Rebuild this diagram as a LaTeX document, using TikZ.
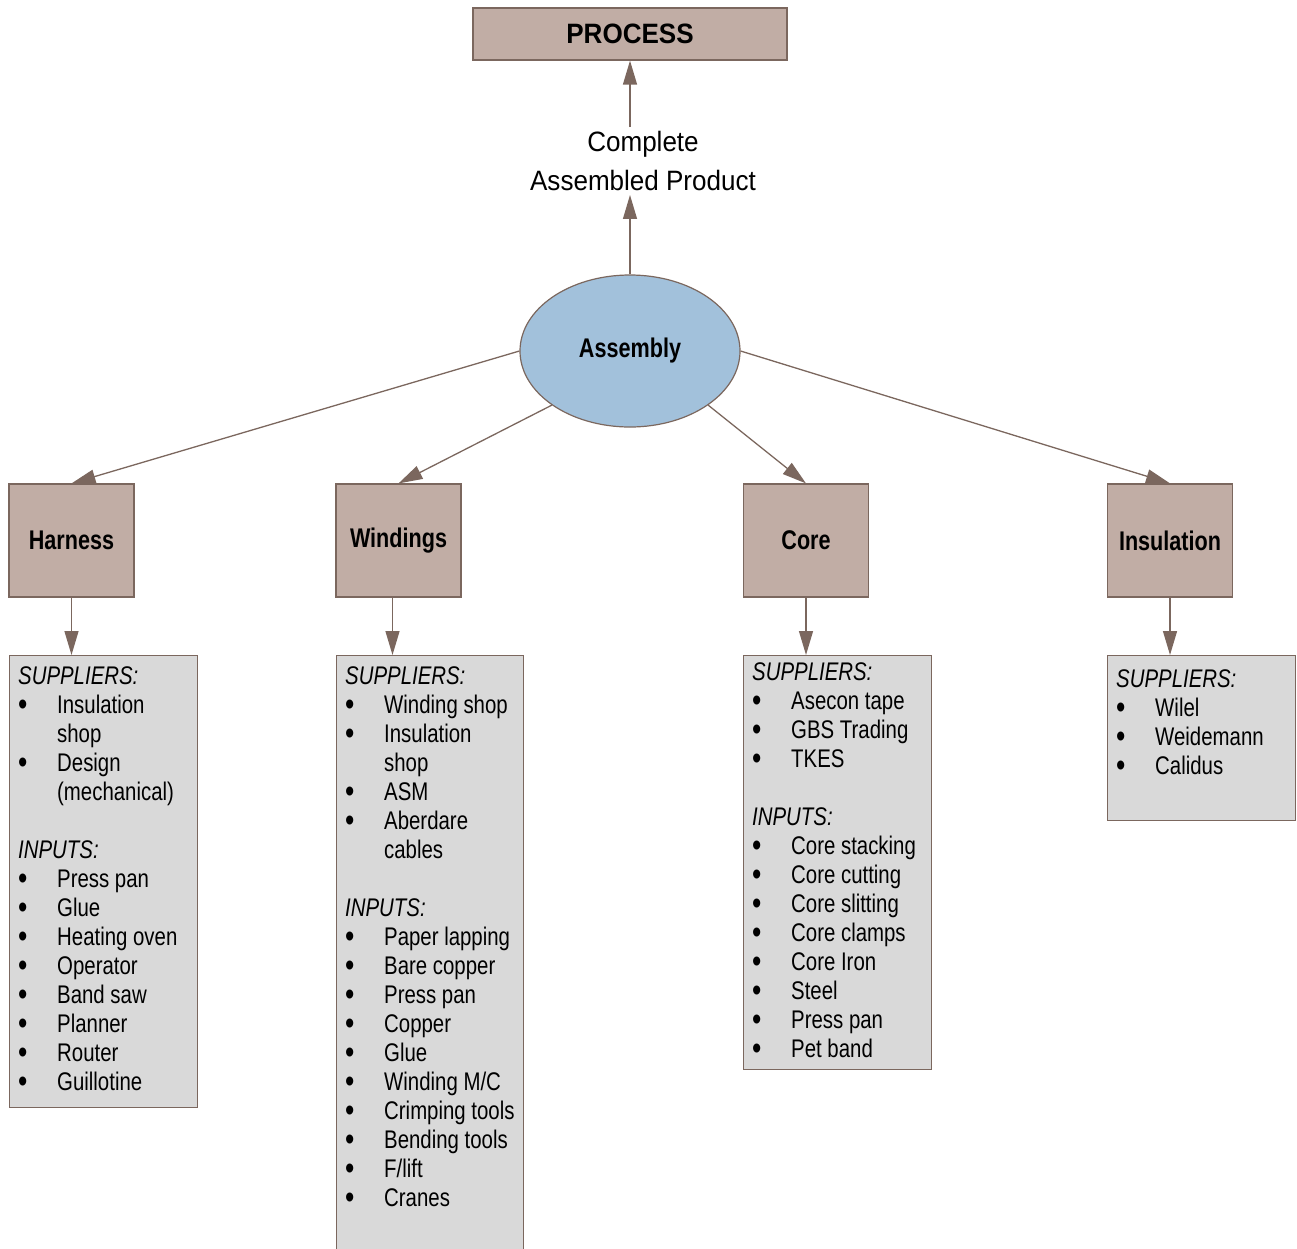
\documentclass[tikz,border=0pt]{standalone}
\usepackage{fontspec}
\setmainfont{Liberation Sans}[FakeStretch=0.8]
\newfontfamily\widefont{Liberation Sans}[FakeStretch=0.93]
\usetikzlibrary{shapes.geometric,arrows.meta}

\definecolor{boxfill}{HTML}{C1ADA5}
\definecolor{boxline}{HTML}{7B675E}
\definecolor{ellfill}{HTML}{A2C1DB}
\definecolor{listfill}{HTML}{D9D9D9}

\newcommand{\itm}[1]{\makebox[39pt][l]{\raisebox{-2pt}{\scalebox{1.3}{\textbullet}}}#1}
\newcommand{\cont}[1]{\hspace*{39pt}#1}

\tikzset{
  part/.style={draw=boxline, fill=boxfill, line width=1.2pt, minimum width=125pt,
    minimum height=113pt, inner sep=0pt, font=\fontsize{27}{30}\selectfont\bfseries},
  listbox/.style={draw=boxline, fill=listfill, line width=1.2pt, anchor=north west,
    inner sep=0pt, minimum width=188pt},
  listtext/.style={anchor=north west, inner sep=0pt, align=left,
    font=\fontsize{25.5}{29}\selectfont},
  arr/.style={draw=boxline, line width=1.3pt, -{Triangle[length=24pt,width=14pt]}}
}

\begin{document}
\begin{tikzpicture}[x=1pt,y=-1pt]
\useasboundingbox (0,0) rectangle (1297,1248);

% top of the chart
\node[draw=boxline, fill=boxfill, line width=1.2pt, minimum width=314pt, minimum height=52pt,
  font=\widefont\fontsize{28}{30}\selectfont\bfseries] (proc) at (630,34) {PROCESS};
\node[align=center, inner sep=4pt, font=\widefont\fontsize{28}{39}\selectfont] (prod) at (643,161)
  {Complete\\Assembled Product};
\node[ellipse, draw=boxline, fill=ellfill, line width=1.2pt, minimum width=220pt, minimum height=152pt,
  font=\fontsize{27}{30}\selectfont\bfseries] (asm) at (630,351) {Assembly};

\draw[arr] (asm.north) -- (asm.north |- prod.south);
\draw[arr] (asm.north |- prod.north) -- (asm.north |- proc.south);

% the four parts
\node[part] (harness) at (71.5,540.5) {Harness};
\node[part] (windings) at (398.5,540.5) {Windings};
\node[part] (core) at (806,540.5) {Core};
\node[part] (insul) at (1170,540.5) {Insulation};

\draw[arr] (asm.west) -- (harness.north);
\draw[arr] (asm.south west) -- (windings.north);
\draw[arr] (asm.south east) -- (core.north);
\draw[arr] (asm.east) -- (insul.north);

% suppliers and inputs
\node[listbox, minimum height=452pt] (harnessL) at (9,655) {};
\node[listbox, minimum height=610pt, minimum width=187pt] (windingsL) at (336,655) {};
\node[listbox, minimum height=414pt] (coreL) at (743,655) {};
\node[listbox, minimum height=165pt] (insulL) at (1107,655) {};

\draw[arr] (harness.south) -- (harness.south |- harnessL.north);
\draw[arr] (windings.south) ++(-6,0) coordinate (wd) -- (wd |- windingsL.north);
\draw[arr] (core.south) -- (core.south |- coreL.north);
\draw[arr] (insul.south) -- (insul.south |- insulL.north);

\node[listtext] (harnessT) at ([xshift=9pt,yshift=-11pt]harnessL.north west) {%
  \textit{SUPPLIERS:}\\ \itm{Insulation}\\ \cont{shop}\\ \itm{Design}\\ \cont{(mechanical)}\\[29pt]
  \textit{INPUTS:}\\ \itm{Press pan}\\ \itm{Glue}\\ \itm{Heating oven}\\ \itm{Operator}\\
  \itm{Band saw}\\ \itm{Planner}\\ \itm{Router}\\ \itm{Guillotine}};
\node[listtext] (windingsT) at ([xshift=9pt,yshift=-11pt]windingsL.north west) {%
  \textit{SUPPLIERS:}\\ \itm{Winding shop}\\ \itm{Insulation}\\ \cont{shop}\\ \itm{ASM}\\
  \itm{Aberdare}\\ \cont{cables}\\[29pt]
  \textit{INPUTS:}\\ \itm{Paper lapping}\\ \itm{Bare copper}\\ \itm{Press pan}\\ \itm{Copper}\\
  \itm{Glue}\\ \itm{Winding M/C}\\ \itm{Crimping tools}\\ \itm{Bending tools}\\ \itm{F/lift}\\
  \itm{Cranes}};
\node[listtext] (coreT) at ([xshift=9pt,yshift=-7pt]coreL.north west) {%
  \textit{SUPPLIERS:}\\ \itm{Asecon tape}\\ \itm{GBS Trading}\\ \itm{TKES}\\[29pt]
  \textit{INPUTS:}\\ \itm{Core stacking}\\ \itm{Core cutting}\\ \itm{Core slitting}\\
  \itm{Core clamps}\\ \itm{Core Iron}\\ \itm{Steel}\\ \itm{Press pan}\\ \itm{Pet band}};
\node[listtext] (insulT) at ([xshift=9pt,yshift=-14pt]insulL.north west) {%
  \textit{SUPPLIERS:}\\ \itm{Wilel}\\ \itm{Weidemann}\\ \itm{Calidus}};
\end{tikzpicture}
\end{document}
